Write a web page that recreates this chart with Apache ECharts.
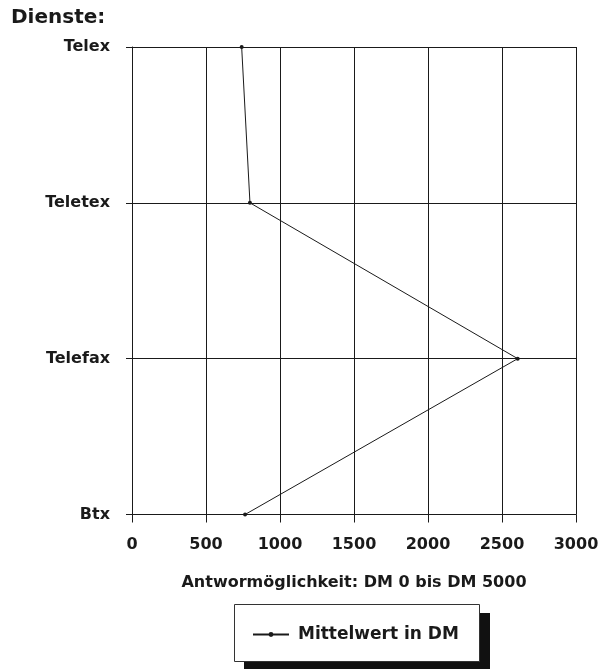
<!DOCTYPE html>
<html>
<head>
<meta charset="utf-8">
<script src="https://cdn.jsdelivr.net/npm/echarts@6/dist/echarts.min.js"></script>
<style>html,body{margin:0;padding:0;background:#fff}#c{width:606px;height:669px}</style>
</head>
<body>
<div id="c"></div>
<script>
var categories = ['Telex', 'Teletex', 'Telefax', 'Btx'];
var mittelwert = [741, 797, 2606, 764];
var xTicks = [0, 500, 1000, 1500, 2000, 2500, 3000];
var seriesName = 'Mittelwert in DM';
var titleText = 'Dienste:';
var xAxisName = 'Antwormöglichkeit: DM 0 bis DM 5000';

var FONT = 'DejaVu Sans';
var INK = '#1a1a1a';
var chart = echarts.init(document.getElementById('c'), null, {renderer: 'canvas'});
chart.setOption({
  animation: false,
  backgroundColor: '#fff',
  title: {
    text: titleText, left: 6, top: 3,
    textStyle: {fontFamily: FONT, fontSize: 20, fontWeight: 'bold', color: INK}
  },
  grid: {left: 132, right: 30, top: 47, bottom: 154.5, containLabel: false},
  xAxis: {
    type: 'value', min: xTicks[0], max: xTicks[xTicks.length - 1], interval: 500,
    name: xAxisName, nameLocation: 'middle', nameGap: 60,
    nameTextStyle: {fontFamily: FONT, fontSize: 16, fontWeight: 'bold', color: INK},
    axisLine: {show: true, lineStyle: {color: INK, width: 1}},
    axisTick: {show: true, length: 8, lineStyle: {color: INK, width: 1}},
    axisLabel: {margin: 22, fontFamily: FONT, fontSize: 16, fontWeight: 'bold', color: INK,
      formatter: function (v) { return String(v); }},
    splitLine: {show: true, lineStyle: {color: INK, width: 1}}
  },
  yAxis: {
    type: 'category', data: categories, inverse: true, boundaryGap: false,
    axisLine: {show: true, onZero: false, lineStyle: {color: INK, width: 1}},
    axisTick: {show: true, length: 6, lineStyle: {color: INK, width: 1}},
    axisLabel: {margin: 22, fontFamily: FONT, fontSize: 16, fontWeight: 'bold', color: INK},
    splitLine: {show: true, lineStyle: {color: INK, width: 1}}
  },
  legend: {
    data: [seriesName], left: 252, top: 626, padding: 0,
    itemWidth: 36, itemHeight: 6, itemGap: 0,
    textStyle: {fontFamily: FONT, fontSize: 17, fontWeight: 'bold', color: INK, padding: [0, 0, 0, 4]}
  },
  graphic: [
    {type: 'rect', z: 1, shape: {x: 244, y: 613, width: 246, height: 60}, style: {fill: '#111'}},
    {type: 'rect', z: 2, shape: {x: 234.5, y: 604.5, width: 245, height: 57}, style: {fill: '#fff', stroke: '#333', lineWidth: 1}}
  ],
  series: [{
    name: seriesName, type: 'line', data: mittelwert,
    symbol: 'circle', symbolSize: 4, showSymbol: true,
    lineStyle: {color: INK, width: 1}, itemStyle: {color: INK}
  }]
});
</script>
</body>
</html>
